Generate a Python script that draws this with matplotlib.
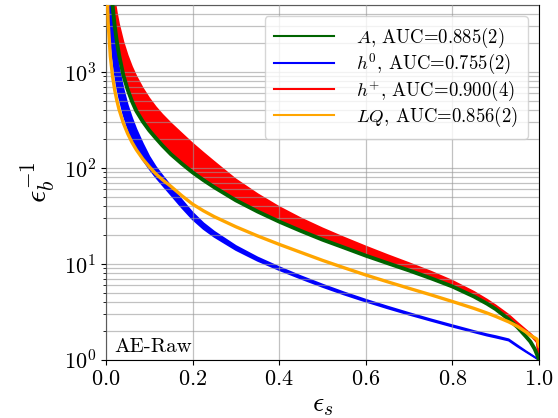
import matplotlib
matplotlib.use("Agg")
import matplotlib.pyplot as plt
from matplotlib.lines import Line2D

plt.rcParams['font.family'] = 'serif'
plt.rcParams['font.serif'] = ['cmr10']
plt.rcParams['mathtext.fontset'] = 'cm'
plt.rcParams['axes.formatter.use_mathtext'] = True

# signal efficiency grid shared by all curves
eps_s = [0.002, 0.005, 0.01, 0.015, 0.02, 0.025, 0.03, 0.04, 0.05, 0.06,
         0.07, 0.085, 0.1, 0.115, 0.13, 0.15, 0.175, 0.2, 0.225, 0.25,
         0.3, 0.35, 0.4, 0.45, 0.5, 0.55, 0.6, 0.65, 0.7, 0.75,
         0.8, 0.85, 0.88, 0.9, 0.93, 0.95, 0.97, 0.98, 0.99, 0.995, 1.0]

# inverse background efficiency
A_mid = [150000, 33000, 10100, 5000, 3050, 2080, 1520, 925, 656, 495,
         393, 305, 246, 205, 172, 139, 111, 90, 74.8, 63,
         46, 35.2, 27.6, 22.1, 17.9, 14.8, 12.2, 10.2, 8.55, 7.1,
         5.82, 4.57, 3.85, 3.38, 2.65, 2.2, 1.75, 1.55, 1.3, 1.15, 1.0]

h0_lo = [30000, 7900, 2670, 1500, 977, 708, 548, 362, 262, 200,
         160, 122, 98, 80.2, 66.7, 52.5, 38.7, 29.2, 23.2, 19.2,
         14.0, 10.8, 8.65, 7.03, 5.77, 4.8, 4.05, 3.45, 2.96, 2.56,
         2.22, 1.94, 1.79, 1.71, 1.59, 1.38, 1.21, 1.135, 1.065, 1.03, 1.0]
h0_hi = [90000, 23900, 7710, 3760, 2290, 1550, 1120, 675, 455, 333,
         254, 180, 132, 103, 83.9, 64.6, 46.6, 34.3, 26.6, 21.7,
         15.4, 11.7, 9.27, 7.46, 6.1, 5.05, 4.24, 3.6, 3.08, 2.65,
         2.3, 2.0, 1.85, 1.77, 1.64, 1.42, 1.23, 1.15, 1.072, 1.035, 1.0]

hp_lo = [160000, 34500, 10550, 5220, 3190, 2170, 1590, 967, 686, 518,
         411, 319, 257, 214, 180, 145, 116, 94.3, 78.3, 66,
         48.3, 37, 29, 23.2, 18.8, 15.6, 12.8, 10.7, 9.0, 7.5,
         6.15, 4.85, 4.1, 3.6, 2.85, 2.38, 1.98, 1.8, 1.62, 1.52, 1.0]
hp_hi = [200000, 45000, 16000, 8800, 5770, 4140, 3160, 2070, 1490, 1135,
         904, 678, 532, 432, 361, 292, 229, 180, 144, 116,
         76, 53.5, 39.2, 29.9, 23.5, 18.8, 15.2, 12.4, 10.2, 8.34,
         6.67, 5.12, 4.25, 3.7, 2.95, 2.45, 2.05, 1.88, 1.7, 1.58, 1.0]

LQ_mid = [9200, 3210, 1450, 908, 652, 505, 409, 294, 228, 185,
          155, 124, 103, 87, 75.7, 64.3, 51.5, 42, 35.8, 31.1,
          24.4, 19.6, 16.0, 13.2, 10.9, 9.12, 7.67, 6.52, 5.57, 4.77,
          4.06, 3.44, 3.08, 2.84, 2.49, 2.24, 1.95, 1.8, 1.7, 1.65, 1.4]

labels = [r'$A$, AUC=0.885(2)', r'$h^0$, AUC=0.755(2)',
          r'$h^{+}$, AUC=0.900(4)', r'$LQ$, AUC=0.856(2)']
colors = ['darkgreen', 'blue', 'red', 'orange']

fig = plt.figure(figsize=(5.58, 4.18), dpi=100)
ax = fig.add_axes([0.19, 0.139, 0.776, 0.849])

# bands for h0 and h+, plain thick lines for the narrow ones
ax.fill_between(eps_s, h0_lo, h0_hi, color='blue', lw=0, zorder=2)
ax.plot(eps_s, h0_lo, color='blue', lw=1.3, zorder=2)
ax.plot(eps_s, h0_hi, color='blue', lw=1.3, zorder=2)
ax.fill_between(eps_s, hp_lo, hp_hi, color='red', lw=0, zorder=2)
ax.plot(eps_s, hp_lo, color='red', lw=1.3, zorder=2)
ax.plot(eps_s, hp_hi, color='red', lw=1.3, zorder=2)
ax.plot(eps_s, A_mid, color='darkgreen', lw=2.8, zorder=3)
ax.plot(eps_s, LQ_mid, color='orange', lw=2.4, zorder=3)

ax.set_yscale('log')
ax.set_xlim(0, 1)
ax.set_ylim(1, 5000)
ax.set_axisbelow(False)
ax.grid(True, which='major', color='#999999', alpha=0.6, lw=0.9)
ax.grid(True, which='minor', axis='y', color='#999999', alpha=0.6, lw=0.9)

ax.tick_params(labelsize=16)
ax.set_xlabel(r'$\epsilon_s$', fontsize=20, labelpad=2)
ax.set_ylabel(r'$\epsilon_b^{-1}$', fontsize=22, labelpad=5)
ax.text(0.02, 0.022, 'AE-Raw', transform=ax.transAxes, fontsize=15)

handles = [Line2D([], [], color=c, lw=1.5) for c in colors]
ax.legend(handles, labels, loc='upper right', fontsize=13.5,
          handlelength=3.2, labelspacing=0.1, handletextpad=1.2,
          borderaxespad=0.6, borderpad=0.5)

fig.savefig('out.png', dpi=100)
